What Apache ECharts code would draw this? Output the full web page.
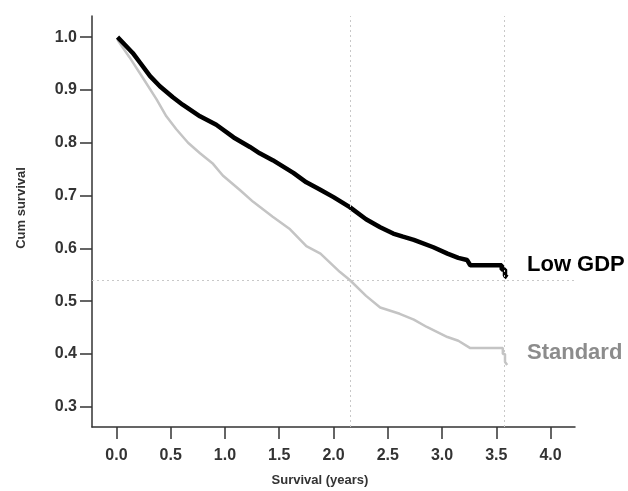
<!DOCTYPE html>
<html>
<head>
<meta charset="utf-8">
<script src="https://cdn.jsdelivr.net/npm/echarts@6/dist/echarts.min.js"></script>
<style>
html,body{margin:0;padding:0;background:#fff;}
#chart{width:628px;height:491px;}
</style>
</head>
<body>
<div id="chart"></div>
<script>
// Kaplan-Meier curves, [years, cum survival]
var lowGdp = [
	[0.01,1.0],[0.08,0.985],[0.15,0.97],[0.22,0.951],[0.31,0.926],[0.4,0.907],[0.52,0.886],
	[0.61,0.872],[0.77,0.85],[0.92,0.834],[1.08,0.81],[1.23,0.792],[1.32,0.78],[1.44,0.767],
	[1.63,0.743],[1.75,0.725],[1.87,0.712],[2.0,0.697],[2.15,0.678],[2.3,0.655],[2.43,0.64],
	[2.55,0.628],[2.64,0.622],[2.74,0.616],[2.92,0.602],[3.05,0.59],[3.15,0.582],[3.23,0.578],
	[3.26,0.568],[3.55,0.568],[3.55,0.56],[3.58,0.56],[3.58,0.548],[3.6,0.545]
];
var standard = [
	[0.01,0.995],[0.06,0.98],[0.12,0.962],[0.24,0.924],[0.37,0.882],[0.46,0.85],[0.55,0.826],
	[0.66,0.8],[0.77,0.78],[0.89,0.76],[0.98,0.738],[1.14,0.71],[1.26,0.688],[1.44,0.66],
	[1.6,0.636],[1.75,0.604],[1.88,0.59],[2.06,0.555],[2.15,0.54],[2.3,0.51],[2.43,0.488],
	[2.61,0.476],[2.74,0.465],[2.86,0.451],[3.05,0.432],[3.15,0.425],[3.26,0.411],[3.56,0.411],
	[3.56,0.4],[3.58,0.4],[3.58,0.385],[3.6,0.379]
];
var xTicks = [0,0.5,1.0,1.5,2.0,2.5,3.0,3.5,4.0];
var yTicks = [0.3,0.4,0.5,0.6,0.7,0.8,0.9,1.0];
var refX = [2.15,3.57];
var refY = 0.543;

var myChart = echarts.init(document.getElementById('chart'));
var labelFont = 'Liberation Sans, Arial, sans-serif';

var option = {
	backgroundColor:'#fff',
	animation:false,
	grid:{left:92,right:53,top:16,bottom:64},
	xAxis:{
		type:'value',
		min:-0.225,
		max:4.225,
		axisLine:{show:true,onZero:false,lineStyle:{color:'#333',width:1.5}},
		axisTick:{show:true,length:12,customValues:xTicks,lineStyle:{color:'#333',width:1.5}},
		axisLabel:{
			customValues:xTicks,
			margin:21,
			color:'#333',
			fontSize:16,
			fontWeight:'bold',
			fontFamily:labelFont,
			formatter:function(v){return v.toFixed(1);}
		},
		splitLine:{show:false}
	},
	yAxis:{
		type:'value',
		min:0.2616,
		max:1.04,
		axisLine:{show:true,onZero:false,lineStyle:{color:'#333',width:1.5}},
		axisTick:{show:true,length:12,customValues:yTicks,lineStyle:{color:'#333',width:1.5}},
		axisLabel:{
			customValues:yTicks,
			margin:15,
			color:'#333',
			fontSize:16,
			fontWeight:'bold',
			fontFamily:labelFont,
			formatter:function(v){return v.toFixed(1);}
		},
		splitLine:{show:false}
	},
	series:[
		{
			name:'Standard',
			type:'line',
			data:standard,
			showSymbol:false,
			lineStyle:{color:'#c4c4c4',width:2.5},
			z:2,
			markLine:{
				silent:true,
				symbol:'none',
				label:{show:false},
				lineStyle:{color:'#c8c8c8',type:[2,3],width:1},
				data:[{xAxis:refX[0]},{xAxis:refX[1]},{yAxis:refY}]
			}
		},
		{
			name:'Low GDP',
			type:'line',
			data:lowGdp,
			showSymbol:false,
			lineStyle:{color:'#000',width:4.5},
			z:3
		}
	],
	graphic:[
		{type:'text',left:527,top:254,style:{text:'Low GDP',fill:'#000',font:'bold 22px '+labelFont}},
		{type:'text',left:527,top:342,style:{text:'Standard',fill:'#8c8c8c',font:'bold 22px '+labelFont}},
		{type:'text',x:320,y:480,style:{text:'Survival (years)',fill:'#333',font:'bold 13px '+labelFont,textAlign:'center',textVerticalAlign:'middle'}},
		{type:'text',x:21,y:208,rotation:Math.PI/2,style:{text:'Cum survival',fill:'#333',font:'bold 13px '+labelFont,textAlign:'center',textVerticalAlign:'middle'}}
	]
};
myChart.setOption(option);
</script>
</body>
</html>
